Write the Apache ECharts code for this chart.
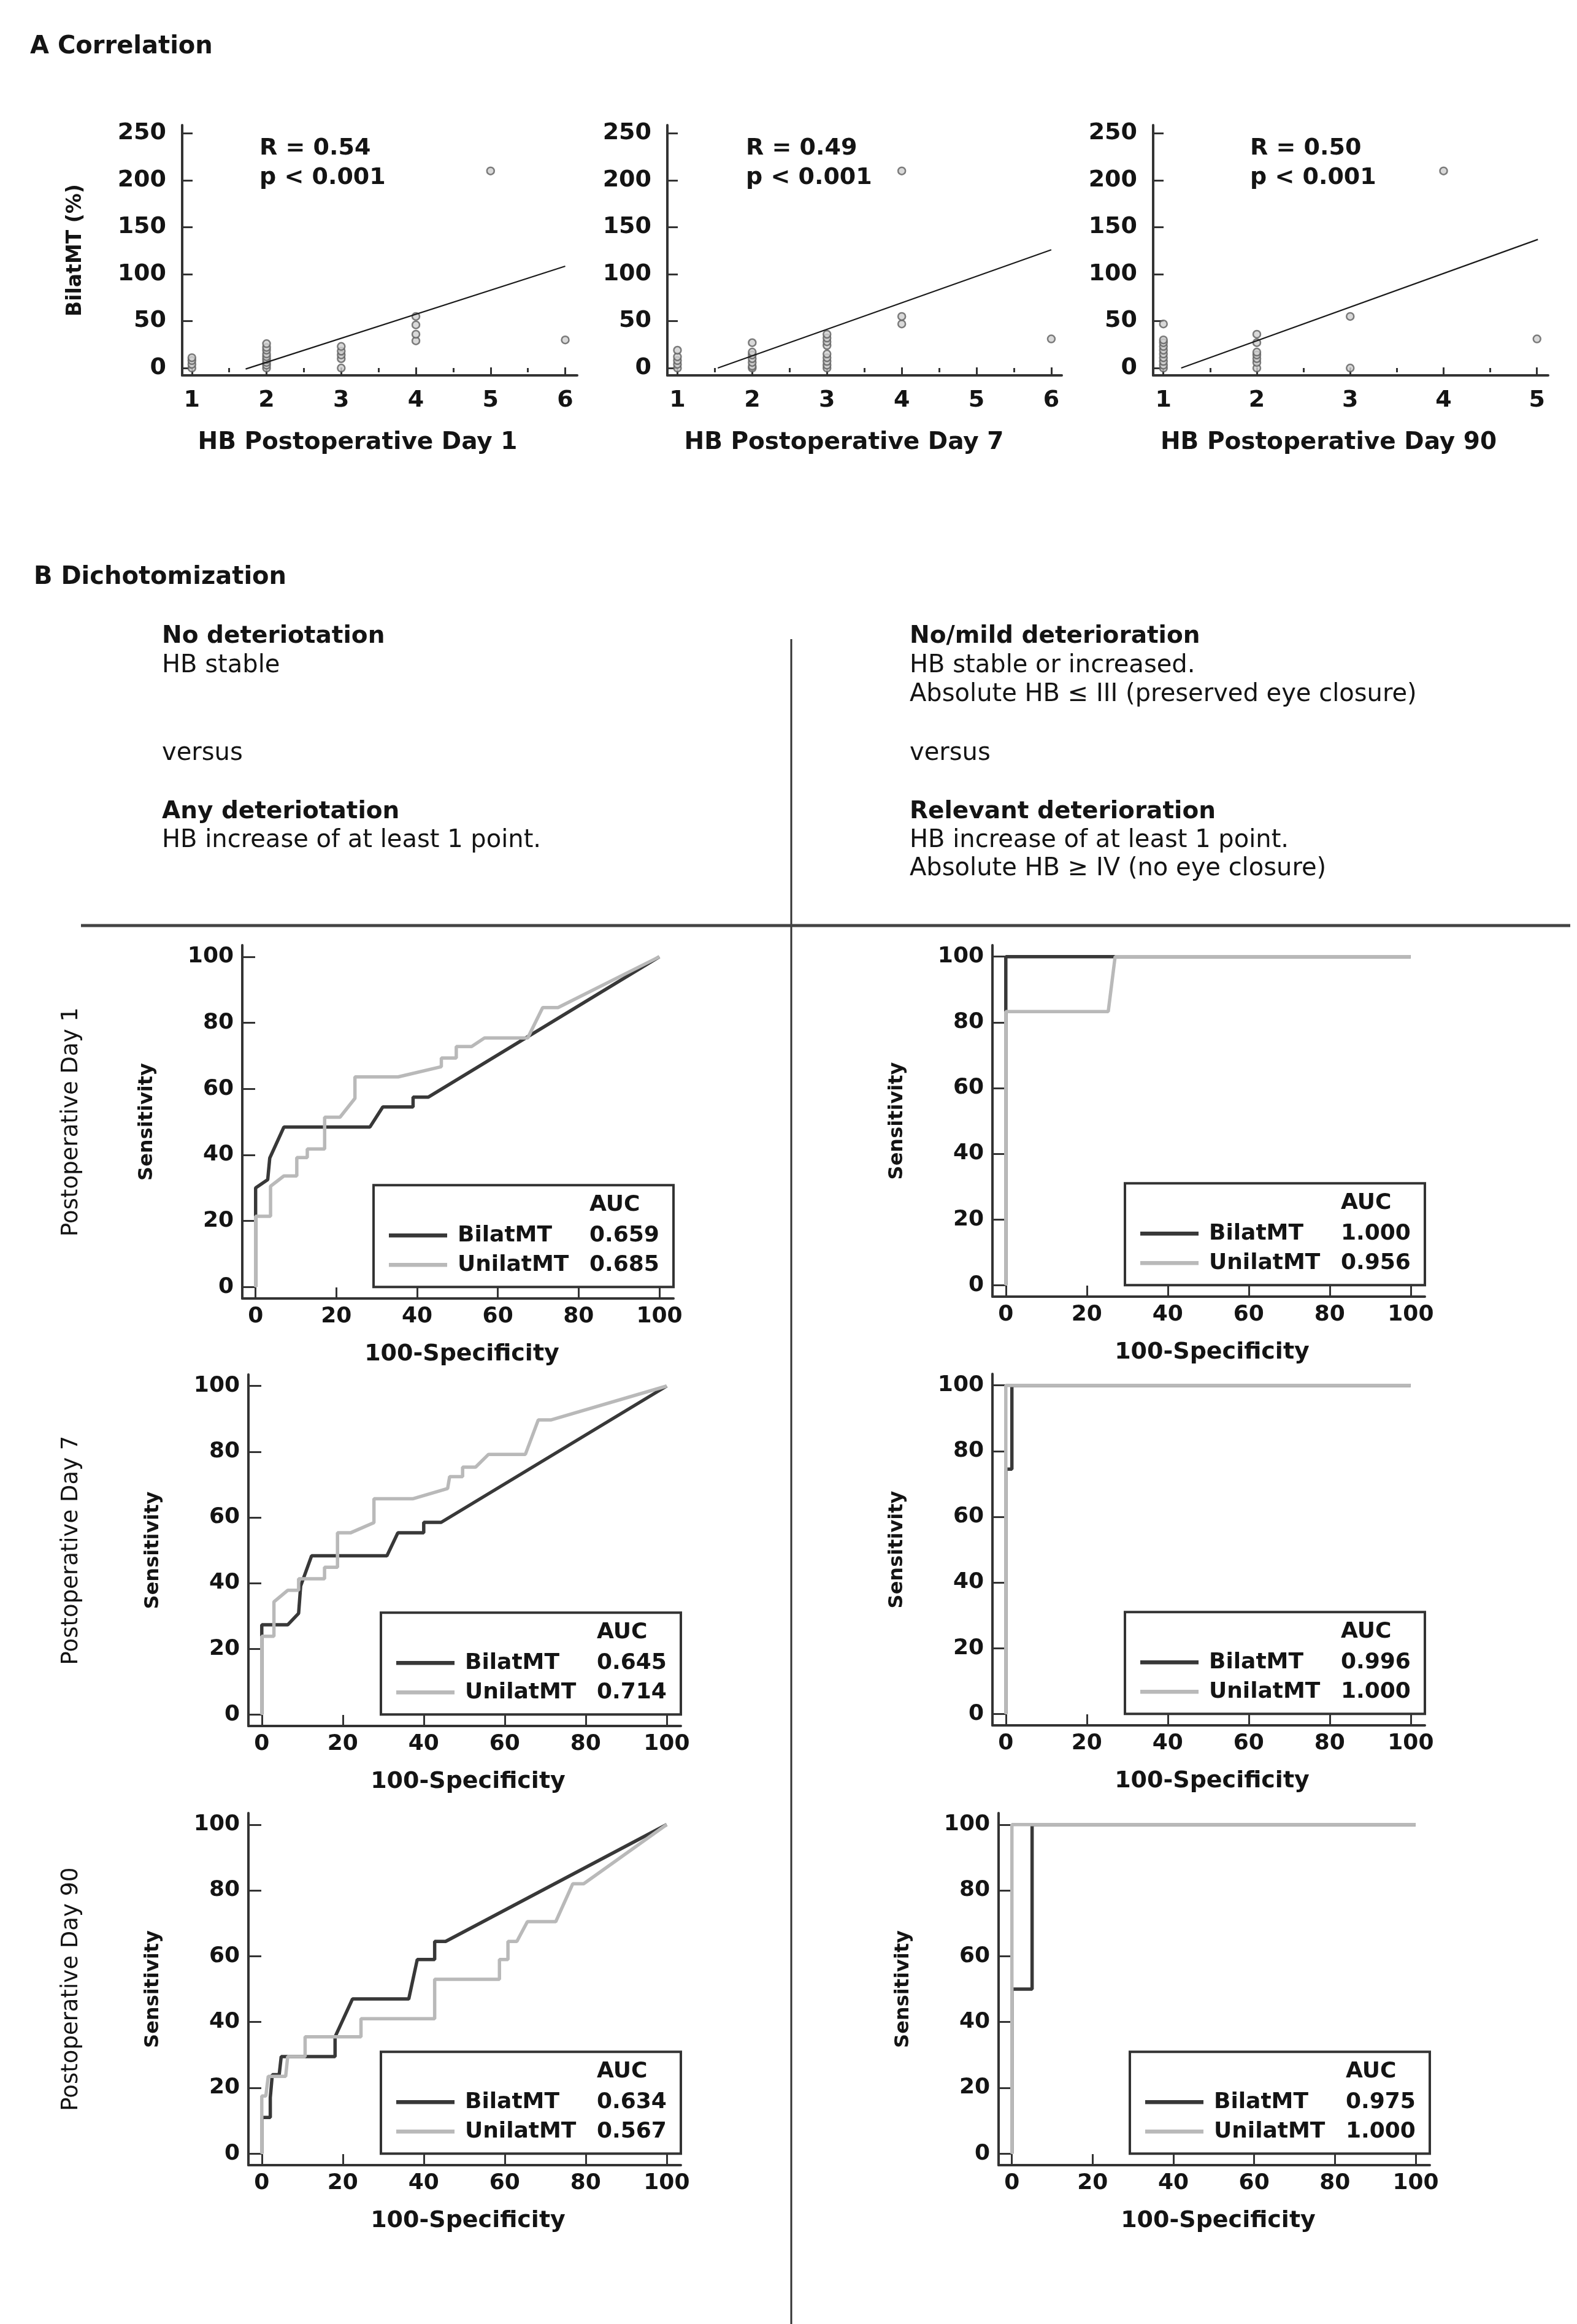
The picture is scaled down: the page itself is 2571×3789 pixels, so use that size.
<!DOCTYPE html>
<html><head><meta charset="utf-8">
<script src="https://cdn.jsdelivr.net/npm/echarts@6/dist/echarts.min.js"></script>
<style>html,body{margin:0;padding:0;background:#fff}#c{width:2571px;height:3789px}</style>
</head><body><div id="c"></div><script>
// ---------- DATA ----------
// A Correlation: HB grade vs BilatMT (%)
const day1X  = [1,1,1,1, 2,2,2,2,2,2,2,2,2, 3,3,3,3,3, 4,4,4,4, 5, 6];
const day1Y  = [0,4,8,11, 0,3,6,9,12,15,19,22,26, 0,10,14,18,23, 29,36,46,55, 210, 30];
const day7X  = [1,1,1,1,1, 2,2,2,2,2,2,2, 3,3,3,3,3,3,3,3,3, 4,4,4, 6];
const day7Y  = [0,4,8,12,19, 0,2,6,10,14,17,27, 0,3,7,11,15,24,28,32,36, 47,55,210, 31];
const day90X = [1,1,1,1,1,1,1,1,1,1, 2,2,2,2,2,2,2, 3,3, 4, 5];
const day90Y = [0,3,7,11,15,19,23,27,30,47, 0,6,10,14,17,27,36, 0,55, 210, 31];
const fitDay1  = [[1.72,-1],[6,108.5]];
const fitDay7  = [[1.54,0],[6,126]];
const fitDay90 = [[1.19,0],[5.01,137]];
const corrR = ['R = 0.54','R = 0.49','R = 0.50'];
const corrP = ['p < 0.001','p < 0.001','p < 0.001'];
const scatterYTicks = [0,50,100,150,200,250];
const day1XTicks = [1,2,3,4,5,6];
const day7XTicks = [1,2,3,4,5,6];
const day90XTicks = [1,2,3,4,5];
const scatterTitles = ['HB Postoperative Day 1','HB Postoperative Day 7','HB Postoperative Day 90'];

// B Dichotomization: ROC curves [100-Specificity, Sensitivity]
const rocAnyD1Bilat  = [[0,0],[0,30],[3,32.5],[3.5,39],[7,48.4],[28.3,48.4],[31.5,54.5],[39,54.5],[39,57.5],[42.8,57.5],[100,100]];
const rocAnyD1Unilat = [[0,0],[0,21.4],[3.7,21.4],[3.7,30.5],[7,33.6],[10.2,33.6],[10.2,39.2],[12.8,39.2],[12.8,41.8],[17.1,41.8],[17.1,51.4],[20.9,51.4],[24.6,57.1],[24.6,63.6],[35.3,63.6],[46,66.7],[46,69.3],[49.7,69.3],[49.7,72.8],[53.5,72.8],[56.7,75.4],[67.4,75.4],[71.1,84.6],[74.9,84.6],[100,100]];
const rocAnyD7Bilat  = [[0,0],[0,27.3],[6.4,27.3],[9.1,30.8],[9.6,39.1],[12.3,48.3],[30.9,48.3],[33.6,55.3],[40,55.3],[40,58.5],[44.3,58.5],[100,100]];
const rocAnyD7Unilat = [[0,0],[0,23.8],[3,23.8],[3,34.3],[6.4,37.8],[9.1,37.8],[9.1,41.3],[15.5,41.3],[15.5,44.8],[18.7,44.8],[18.7,55.3],[21.9,55.3],[27.7,58.4],[27.7,65.7],[37.4,65.7],[45.9,68.8],[46.4,72.4],[49.6,72.4],[49.6,75.3],[52.8,75.3],[56,79.2],[65.1,79.2],[68.3,89.7],[71.5,89.7],[100,100]];
const rocAnyD90Bilat  = [[0,0],[0,11],[2.1,11],[2.1,17],[2.6,24],[4.3,24],[4.8,29.5],[18.1,29.5],[18.1,35.5],[22.4,47],[36.3,47],[38.4,59],[42.7,59],[42.7,64.5],[45.4,64.5],[100,100]];
const rocAnyD90Unilat = [[0,0],[0,17.5],[1,17.5],[1.6,23.5],[5.9,23.5],[6.4,29.5],[10.7,29.5],[10.7,35.5],[24.5,35.5],[24.5,41],[42.7,41],[42.7,53],[58.7,53],[58.7,59],[60.8,59],[60.8,64.5],[63,64.5],[65.6,70.5],[72.6,70.5],[76.8,82],[79.5,82],[100,100]];
const rocRelD1Bilat   = [[0,0],[0,100],[100,100]];
const rocRelD1Unilat  = [[0,0],[0,83.3],[25.3,83.3],[27,100],[100,100]];
const rocRelD7Bilat   = [[0,0],[0,74.5],[1.5,74.5],[1.5,100],[100,100]];
const rocRelD7Unilat  = [[0,0],[0,100],[100,100]];
const rocRelD90Bilat  = [[0,0],[0,50],[5,50],[5,100],[100,100]];
const rocRelD90Unilat = [[0,0],[0,100],[100,100]];
const aucBilat  = ['0.659','0.645','0.634','1.000','0.996','0.975'];
const aucUnilat = ['0.685','0.714','0.567','0.956','1.000','1.000'];
const rocTicks = [0,20,40,60,80,100];
const dayLabels = ['Postoperative Day 1','Postoperative Day 7','Postoperative Day 90'];

// ---------- STYLE / LAYOUT ----------
const FONT = '"DejaVu Sans", sans-serif';
const FAM = 'DejaVu Sans';
const DARK = '#383838', GRAY = '#b9b9b9', AXIS = '#333333', TXT = '#141414';

const option = {animation:false, backgroundColor:'#ffffff', grid:[], xAxis:[], yAxis:[], series:[], graphic:[]};

function txt(x, y, text, size, weight, rot, align) {
  align = align || 'left';
  return {type:'text', x:x, y:y, rotation: rot || 0, z:100,
    style:{text:text, fill:TXT, font: weight + ' ' + size + 'px ' + FONT,
      fontSize:size, fontWeight:weight, fontFamily:FAM,
      align:align, textAlign:align, verticalAlign:'middle', textVerticalAlign:'middle'}};
}
function axisCommon(min, max, ticks, tickLen, labelMargin, labelSize) {
  return {type:'value', min:min, max:max,
    axisLine:{show:true, onZero:false, lineStyle:{color:AXIS, width:4}},
    axisTick:{show:true, inside:true, length:tickLen, customValues:ticks, lineStyle:{color:AXIS, width:3}},
    axisLabel:{show:true, customValues:ticks, margin:labelMargin, fontSize:labelSize, fontWeight:'bold', fontFamily:FAM, color:TXT},
    splitLine:{show:false}};
}

// ---------- A: scatter panels ----------
const scatterPanels = [
  {left:297,  top:204, width:644, height:408, xMin:0.87,  xMax:6.16, xs:day1X,  ys:day1Y,  fit:fitDay1,  ticks:day1XTicks,  rX:423,  titleX:583},
  {left:1088, top:204, width:643, height:408, xMin:0.865, xMax:6.14, xs:day7X,  ys:day7Y,  fit:fitDay7,  ticks:day7XTicks,  rX:1216, titleX:1376},
  {left:1880, top:204, width:644, height:408, xMin:0.89,  xMax:5.12, xs:day90X, ys:day90Y, fit:fitDay90, ticks:day90XTicks, rX:2038, titleX:2166}
];
const SY_MIN = -7.8, SY_MAX = 258.8;
scatterPanels.forEach(function(p, i) {
  const g = option.grid.length;
  option.grid.push({left:p.left, top:p.top, width:p.width, height:p.height});
  const xi = option.xAxis.length;
  option.xAxis.push(Object.assign(axisCommon(p.xMin, p.xMax, p.ticks, 13, 22, 38), {gridIndex:g}));
  const halves = p.ticks.slice(0, -1).map(function(v){ return v + 0.5; });
  option.xAxis.push({type:'value', gridIndex:g, min:p.xMin, max:p.xMax,
    axisLine:{show:false}, axisLabel:{show:false}, splitLine:{show:false},
    axisTick:{show:true, inside:true, length:7, customValues:halves, lineStyle:{color:AXIS, width:3}}});
  const yi = option.yAxis.length;
  option.yAxis.push(Object.assign(axisCommon(SY_MIN, SY_MAX, scatterYTicks, 17, 26, 38), {gridIndex:g}));
  option.series.push({type:'scatter', xAxisIndex:xi, yAxisIndex:yi, symbol:'circle', symbolSize:12,
    itemStyle:{color:'#d0d0d0', borderColor:'#5e5e5e', borderWidth:2.5},
    data:p.xs.map(function(x, k){ return [x, p.ys[k]]; })});
  option.series.push({type:'line', xAxisIndex:xi, yAxisIndex:yi, showSymbol:false, symbol:'none',
    lineStyle:{color:'#1a1a1a', width:2.2}, data:p.fit, z:3});
  option.graphic.push(txt(p.rX, 242, corrR[i], 38, 'bold'));
  option.graphic.push(txt(p.rX, 290, corrP[i], 38, 'bold'));
  option.graphic.push(txt(p.titleX, 722, scatterTitles[i], 39, 'bold', 0, 'center'));
});
option.graphic.push(txt(49, 77, 'A Correlation', 40, 'bold'));
option.graphic.push(txt(123, 408, 'BilatMT (%)', 33, 'bold', Math.PI/2, 'center'));

// ---------- B: header texts ----------
option.graphic.push(txt(55, 942, 'B Dichotomization', 40, 'bold'));
const LX = 264, RX = 1483;
option.graphic.push(txt(LX, 1038, 'No deteriotation', 39, 'bold'));
option.graphic.push(txt(LX, 1086, 'HB stable', 40, 'normal'));
option.graphic.push(txt(LX, 1229, 'versus', 40, 'normal'));
option.graphic.push(txt(LX, 1324, 'Any deteriotation', 39, 'bold'));
option.graphic.push(txt(LX, 1371, 'HB increase of at least 1 point.', 40, 'normal'));
option.graphic.push(txt(RX, 1038, 'No/mild deterioration', 39, 'bold'));
option.graphic.push(txt(RX, 1086, 'HB stable or increased.', 40, 'normal'));
option.graphic.push(txt(RX, 1133, 'Absolute HB \u2264 III (preserved eye closure)', 40, 'normal'));
option.graphic.push(txt(RX, 1229, 'versus', 40, 'normal'));
option.graphic.push(txt(RX, 1324, 'Relevant deterioration', 39, 'bold'));
option.graphic.push(txt(RX, 1371, 'HB increase of at least 1 point.', 40, 'normal'));
option.graphic.push(txt(RX, 1417, 'Absolute HB \u2265 IV (no eye closure)', 40, 'normal'));
option.graphic.push({type:'line', z:50, shape:{x1:1290, y1:1042, x2:1290, y2:3789}, style:{stroke:AXIS, lineWidth:3}});
option.graphic.push({type:'line', z:50, shape:{x1:132, y1:1509, x2:2560, y2:1509}, style:{stroke:'#444', lineWidth:5}});

// ---------- B: ROC panels ----------
const RX_MIN = -3.3, RX_MAX = 103.5, RY_MIN = -3.5, RY_MAX = 103.5;
const rocPanels = [
  {left:395,  top:1541, width:703, height:576, bilat:rocAnyD1Bilat,  unilat:rocAnyD1Unilat,  day:0},
  {left:405,  top:2241, width:705, height:573, bilat:rocAnyD7Bilat,  unilat:rocAnyD7Unilat,  day:1},
  {left:405,  top:2956, width:705, height:574, bilat:rocAnyD90Bilat, unilat:rocAnyD90Unilat, day:2},
  {left:1618, top:1541, width:705, height:573, bilat:rocRelD1Bilat,  unilat:rocRelD1Unilat,  day:-1},
  {left:1618, top:2240, width:705, height:573, bilat:rocRelD7Bilat,  unilat:rocRelD7Unilat,  day:-1},
  {left:1628, top:2956, width:703, height:574, bilat:rocRelD90Bilat, unilat:rocRelD90Unilat, day:-1}
];
rocPanels.forEach(function(p, i) {
  const g = option.grid.length;
  option.grid.push({left:p.left, top:p.top, width:p.width, height:p.height});
  const xi = option.xAxis.length;
  option.xAxis.push(Object.assign(axisCommon(RX_MIN, RX_MAX, rocTicks, 18, 12, 36), {gridIndex:g}));
  const yi = option.yAxis.length;
  option.yAxis.push(Object.assign(axisCommon(RY_MIN, RY_MAX, rocTicks, 21, 14, 36), {gridIndex:g}));
  option.series.push({type:'line', name:'BilatMT', xAxisIndex:xi, yAxisIndex:yi, showSymbol:false, symbol:'none',
    lineStyle:{color:DARK, width:5.5}, data:p.bilat, z:3});
  option.series.push({type:'line', name:'UnilatMT', xAxisIndex:xi, yAxisIndex:yi, showSymbol:false, symbol:'none',
    lineStyle:{color:GRAY, width:5.5}, data:p.unilat, z:4});
  const right = p.left + p.width;
  const axisY = p.top + p.height;
  const zeroY = p.top + p.height * (RY_MAX - 0) / (RY_MAX - RY_MIN);
  const midY = p.top + p.height / 2;
  // axis titles
  option.graphic.push(txt(p.left + 358, axisY + 91, '100-Specificity', 38, 'bold', 0, 'center'));
  option.graphic.push(txt(p.left - 155, midY, 'Sensitivity', 32, 'bold', Math.PI/2, 'center'));
  if (p.day >= 0) option.graphic.push(txt(116, midY, dayLabels[p.day], 37, 'normal', Math.PI/2, 'center'));
  // legend box
  const bw = 489, bh = 166, bx = right - bw, by = zeroY - bh;
  option.graphic.push({type:'rect', z:90, shape:{x:bx, y:by, width:bw, height:bh}, style:{fill:'#ffffff', stroke:AXIS, lineWidth:4}});
  option.graphic.push(txt(bx + 352, by + 32, 'AUC', 36, 'bold'));
  option.graphic.push({type:'line', z:95, shape:{x1:bx + 25, y1:by + 82, x2:bx + 120, y2:by + 82}, style:{stroke:DARK, lineWidth:6.5}});
  option.graphic.push({type:'line', z:95, shape:{x1:bx + 25, y1:by + 130, x2:bx + 120, y2:by + 130}, style:{stroke:GRAY, lineWidth:6.5}});
  option.graphic.push(txt(bx + 137, by + 82, 'BilatMT', 36, 'bold'));
  option.graphic.push(txt(bx + 137, by + 130, 'UnilatMT', 36, 'bold'));
  option.graphic.push(txt(bx + 352, by + 82, aucBilat[i], 36, 'bold'));
  option.graphic.push(txt(bx + 352, by + 130, aucUnilat[i], 36, 'bold'));
});

const chart = echarts.init(document.getElementById('c'), null, {renderer:'canvas'});
chart.setOption(option);
</script></body></html>
